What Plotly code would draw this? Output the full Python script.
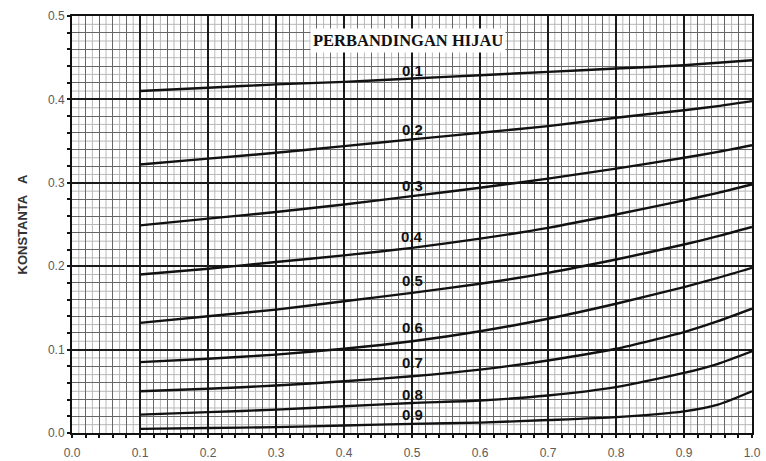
import numpy as np
import plotly.graph_objects as go

# Green ratio curves: constant A against the horizontal ratio
x_vals = [0.1, 0.2, 0.3, 0.4, 0.5, 0.6, 0.7, 0.8, 0.9, 0.95, 1.0]

ratio_labels = ["0.1", "0.2", "0.3", "0.4", "0.5", "0.6", "0.7", "0.8", "0.9"]

curve_01 = [0.410, 0.414, 0.418, 0.421, 0.425, 0.429, 0.433, 0.437, 0.441, 0.444, 0.447]
curve_02 = [0.322, 0.329, 0.336, 0.344, 0.352, 0.360, 0.368, 0.378, 0.387, 0.392, 0.398]
curve_03 = [0.249, 0.257, 0.265, 0.274, 0.284, 0.294, 0.305, 0.317, 0.330, 0.337, 0.345]
curve_04 = [0.190, 0.197, 0.205, 0.213, 0.222, 0.233, 0.246, 0.262, 0.279, 0.288, 0.298]
curve_05 = [0.132, 0.140, 0.148, 0.158, 0.168, 0.179, 0.192, 0.208, 0.226, 0.236, 0.247]
curve_06 = [0.085, 0.089, 0.094, 0.101, 0.110, 0.122, 0.137, 0.155, 0.175, 0.186, 0.198]
curve_07 = [0.050, 0.053, 0.057, 0.062, 0.068, 0.076, 0.087, 0.101, 0.121, 0.134, 0.149]
curve_08 = [0.022, 0.025, 0.028, 0.032, 0.036, 0.039, 0.045, 0.055, 0.072, 0.083, 0.098]
curve_09 = [0.005, 0.006, 0.007, 0.009, 0.011, 0.0125, 0.0155, 0.019, 0.026, 0.034, 0.050]

curves = [curve_01, curve_02, curve_03, curve_04, curve_05,
          curve_06, curve_07, curve_08, curve_09]

# where each ratio label sits on the 0.5 line
label_x = 0.5
label_y = [0.435, 0.364, 0.297, 0.236, 0.183, 0.127, 0.084, 0.046, 0.022]

title_text = "PERBANDINGAN HIJAU"
y_title = "KONSTANTA\u00a0\u00a0\u00a0A"

fig = go.Figure()

for vals, name in zip(curves, ratio_labels):
    fig.add_trace(go.Scatter(
        x=x_vals, y=vals, mode="lines", name=name,
        line=dict(color="#111111", width=2.4, shape="spline", smoothing=0.6),
        showlegend=False, hoverinfo="skip",
    ))

for name, yy in zip(ratio_labels, label_y):
    fig.add_annotation(x=label_x, y=yy, text=name, showarrow=False,
                       xanchor="center", yanchor="middle",
                       font=dict(family="Liberation Sans", size=15,
                                 color="#111111", weight="bold"))

fig.add_annotation(x=0.494, y=0.471, text=title_text, showarrow=False,
                   xanchor="center", yanchor="middle", bgcolor="white",
                   borderpad=2,
                   font=dict(family="Liberation Serif", size=16.5,
                             color="#111111", weight="bold"))

# fine 0.01 graph-paper lines (odd hundredths) under the axis grid
shapes = []
for i in range(1, 100, 2):
    xv = i / 100
    shapes.append(dict(type="line", xref="x", yref="y", x0=xv, x1=xv,
                       y0=0, y1=0.5, layer="below",
                       line=dict(color="#b8b8b8", width=1)))
for i in range(1, 50, 2):
    yv = i / 100
    shapes.append(dict(type="line", xref="x", yref="y", x0=0, x1=1,
                       y0=yv, y1=yv, layer="below",
                       line=dict(color="#b8b8b8", width=1)))

axis_common = dict(
    showline=True, linecolor="#111111", linewidth=2, mirror=True,
    showgrid=True, gridcolor="#1a1a1a", gridwidth=2,
    ticks="outside", ticklen=3, tickwidth=2, tickcolor="#111111",
    tickfont=dict(family="Liberation Sans", size=12, color="#5a5a5a"),
    minor=dict(dtick=0.02, showgrid=True, gridcolor="#666666", gridwidth=1.3,
               ticks="outside", ticklen=3, tickwidth=2, tickcolor="#111111"),
    zeroline=False, automargin=False,
)

fig.update_xaxes(range=[0, 1], dtick=0.1, tickformat=".1f",
                 ticklabelstandoff=5, **axis_common)
fig.update_yaxes(range=[0, 0.5], dtick=0.1, tickformat=".1f",
                 title=dict(text=y_title, standoff=17,
                            font=dict(family="Liberation Sans", size=13,
                                      color="#333333", weight="bold")),
                 **axis_common)

fig.update_layout(
    width=766, height=461,
    margin=dict(l=72, r=14, t=16, b=28),
    paper_bgcolor="white", plot_bgcolor="white",
    shapes=shapes,
)

fig.write_html("out.html")
